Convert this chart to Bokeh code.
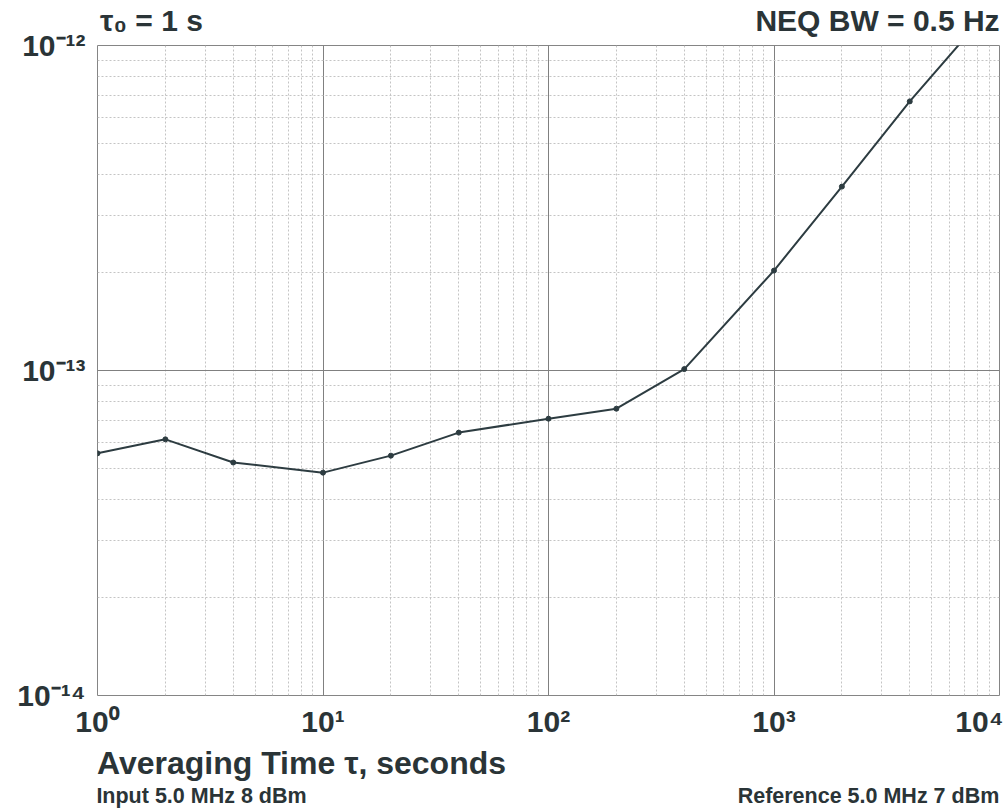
from bokeh.plotting import figure
from bokeh.models import (FixedTicker, CustomJSTickFormatter, LogAxis, ColumnDataSource)
from bokeh.embed import file_html
from bokeh.resources import INLINE

# ---- data ----
tau = [1, 2, 4, 10, 20, 40, 100, 200, 400, 1000, 2000, 4000, 10000]
adev = [5.56e-14, 6.14e-14, 5.21e-14, 4.85e-14, 5.47e-14, 6.44e-14, 7.11e-14,
        7.63e-14, 1.01e-13, 2.03e-13, 3.68e-13, 6.73e-13, 1.40e-12]
x_major = [1, 10, 100, 1000, 10000]
y_major = [1e-14, 1e-13, 1e-12]
title_left = "τ₀ = 1 s"
title_right = "NEQ BW = 0.5 Hz"
x_title = "Averaging Time τ, seconds"
note_left = "Input 5.0 MHz 8 dBm"
note_right = "Reference 5.0 MHz 7 dBm"

FONT = "Liberation Sans"
TXT = "#2a3437"

x_minor = [m * d for d in x_major[:-1] for m in range(2, 10)]
y_minor = [m * d for d in y_major[:-1] for m in range(2, 10)]

FRAME_L, FRAME_R = 97, 999
p = figure(width=1003, height=812, x_axis_type="log", y_axis_type="log",
           x_range=(1, 1e4), y_range=(1e-14, 1e-12),
           output_backend="svg", toolbar_location=None,
           min_border_left=FRAME_L, min_border_right=1003 - FRAME_R,
           min_border_top=45, min_border_bottom=117)
p.title.visible = False
p.background_fill_color = "white"
p.border_fill_color = "white"
p.outline_line_color = "#858585"
p.outline_line_width = 1

fmt_code = r"""
const sup = {"0":"\u2070","1":"\u00b9","2":"\u00b2","3":"\u00b3","4":"\u2074",
             "5":"\u2075","6":"\u2076","7":"\u2077","8":"\u2078","9":"\u2079","-":"\u207b"};
const e = Math.round(Math.log10(tick));
return "10" + String(e).split("").map(c => sup[c]).join("");
"""

def style_axis(ax, size):
    ax.axis_line_color = None
    ax.major_tick_line_color = None
    ax.minor_tick_line_color = None
    ax.major_tick_out = 0
    ax.minor_tick_out = 0
    ax.major_label_text_font = FONT
    ax.major_label_text_font_style = "bold"
    ax.major_label_text_font_size = size
    ax.major_label_text_color = TXT

for ax, maj, mnr in ((p.xaxis[0], x_major, x_minor), (p.yaxis[0], y_major, y_minor)):
    ax.ticker = FixedTicker(ticks=maj, minor_ticks=mnr)
    ax.formatter = CustomJSTickFormatter(code=fmt_code)
    style_axis(ax, "30px")

p.xaxis[0].major_label_standoff = 9
p.yaxis[0].major_label_standoff = 12

for g in (p.xgrid[0], p.ygrid[0]):
    g.grid_line_color = "#808080"
    g.grid_line_width = 1
    g.minor_grid_line_color = "#c4c4c4"
    g.minor_grid_line_width = 1
    g.minor_grid_line_dash = "2 2"

src = ColumnDataSource(data=dict(tau=tau, adev=adev))
p.line("tau", "adev", source=src, line_color="#2d3c41", line_width=2)
p.scatter("tau", "adev", source=src, size=5, fill_color="#2d3c41", line_color="#2d3c41")

# ---- page texts, drawn as tick labels of extra text-only axes ----
decade_px = (FRAME_R - FRAME_L) / 4.0

def at_px(c):
    # x position (in the log data range) whose screen position is page pixel c
    return 10 ** ((c - FRAME_L) / decade_px)

def text_axis(place, texts, centers, size, standoff):
    ax = LogAxis(ticker=FixedTicker(ticks=[at_px(c) for c in centers], minor_ticks=[]),
                 formatter=CustomJSTickFormatter(args=dict(labels=texts),
                                                 code="return labels[index];"))
    style_axis(ax, size)
    ax.major_label_standoff = standoff
    p.add_layout(ax, place)

text_axis("above", [title_left, title_right], [151, 877], "30px", 9)
text_axis("below", [x_title], [301], "32px", 4)
text_axis("below", [note_left, note_right], [201, 868], "21.5px", 0)

open("out.html", "w", encoding="utf-8").write(file_html(p, INLINE))
